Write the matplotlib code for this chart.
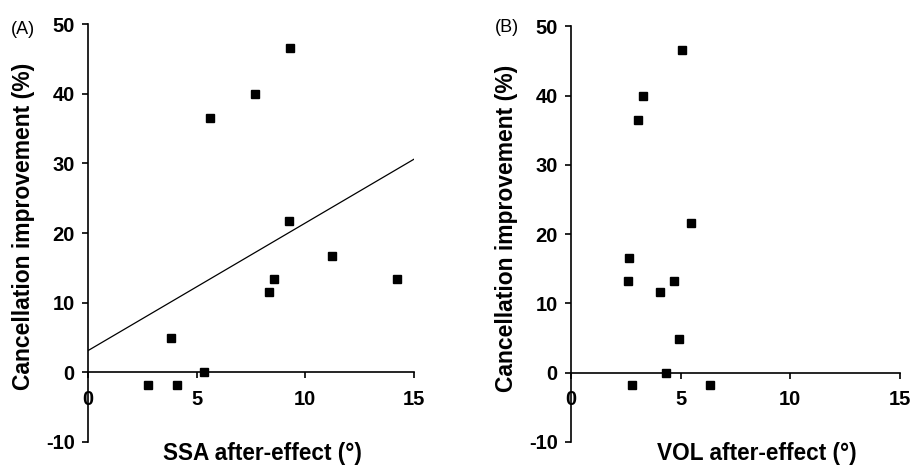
import matplotlib
matplotlib.use("Agg")
import matplotlib.pyplot as plt

plt.rcParams['font.family'] = ['Liberation Sans', 'DejaVu Sans']
plt.rcParams['axes.unicode_minus'] = False

# panel A: SSA after-effect vs cancellation improvement
ssa = [9.32, 7.69, 5.62, 9.26, 11.25, 8.55, 8.34, 14.24, 3.83, 2.76, 4.12, 5.33]
ssa_impr = [46.6, 40.0, 36.6, 21.7, 16.7, 13.4, 11.5, 13.4, 4.9, -1.8, -1.8, 0.0]
fit_x = [0, 15]
fit_y = [3.1, 30.6]

# panel B: VOL after-effect vs cancellation improvement
vol = [5.05, 3.27, 3.07, 5.47, 2.65, 2.59, 4.70, 4.06, 4.92, 4.34, 2.79, 6.33]
vol_impr = [46.6, 39.9, 36.5, 21.6, 16.6, 13.2, 13.2, 11.6, 4.9, 0.0, -1.8, -1.8]

xticks = [0, 5, 10, 15]
yticks = [-10, 0, 10, 20, 30, 40, 50]

fig = plt.figure(figsize=(9.1, 4.65), dpi=100)
axA = fig.add_axes([0.0967, 0.050, 0.358, 0.8976])
axB = fig.add_axes([0.6275, 0.0495, 0.361, 0.894])


def style(ax, xlabel, xlab_x, tag, tag_x, tag_y):
    ax.set_xlim(0, 15)
    ax.set_ylim(-10, 50)
    ax.set_xticks(xticks)
    ax.set_yticks(yticks)
    ax.spines['top'].set_visible(False)
    ax.spines['right'].set_visible(False)
    ax.spines['bottom'].set_position(('data', 0))
    for s in ['left', 'bottom']:
        ax.spines[s].set_linewidth(1.2)
    ax.tick_params(axis='both', direction='out', length=4.5, width=1.2,
                   labelsize=14.5)
    ax.tick_params(axis='y', pad=5)
    ax.tick_params(axis='x', pad=8)
    for lab in ax.get_xticklabels() + ax.get_yticklabels():
        lab.set_fontweight('bold')
    ax.set_xlabel(xlabel, fontsize=16.3, fontweight='bold')
    ax.xaxis.set_label_coords(xlab_x, -0.028)
    ax.xaxis.label.set_va('center')
    ax.set_ylabel('Cancellation improvement (%)', fontsize=16.5,
                  fontweight='bold')
    ax.yaxis.set_label_coords(-0.197, 0.515)
    ax.yaxis.label.set_va('center')
    fig.text(tag_x, tag_y, tag, fontsize=13, ha='center', va='center')


axA.plot(ssa, ssa_impr, 's', color='black', markersize=5.8, clip_on=False)
axA.plot(fit_x, fit_y, color='black', linewidth=0.9)
style(axA, 'SSA after-effect (°)', 0.534, '(A)', 23 / 910, 1 - 30 / 465)

axB.plot(vol, vol_impr, 's', color='black', markersize=5.8, clip_on=False)
style(axB, 'VOL after-effect (°)', 0.566, '(B)', 507 / 910, 1 - 27 / 465)

fig.savefig('out.png', dpi=100)
